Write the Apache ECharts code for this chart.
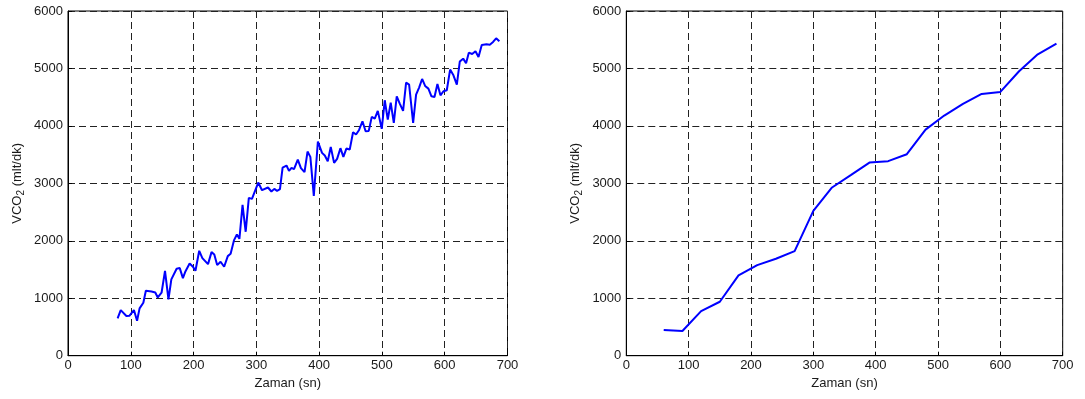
<!DOCTYPE html>
<html>
<head>
<meta charset="utf-8">
<script src="https://cdn.jsdelivr.net/npm/echarts@6/dist/echarts.min.js"></script>
<style>
html,body{margin:0;padding:0;background:#fff;}
#c{width:1085px;height:399px;}
</style>
</head>
<body>
<div id="c"></div>
<script>
// Left panel: raw breath-by-breath VCO2
const leftTimes = [79,84,93,98,105,110,114,120,124,133,139,143,149,154.5,160,164.6,173,178,183,187,193.7,199,203,209,214,223,228.6,233,237.6,243,248.7,254.5,259,264.5,269,273,278,283,288,293,303,309,318.5,324,328.6,333,337.6,341.8,348,352,356,360,366,371,376.7,381.5,386,391.5,398,
  404.6,409,413.7,418.5,423.8,428.6,433.9,438.6,443.4,448.7,454,458.8,463.6,469,474,479,483.8,488.6,493.4,499.7,504.5,509.3,514,518.9,523.6,528.4,533.7,538.5,543.3,549.7,554.4,559.2,564,568.8,574,578.9,583.7,588.4,593.2,598,603.3,608.6,613.9,619.3,624,629.4,634,638.4,643.7,649,653.8,659,666.5,671.8,677,681.9,687];
const leftValues = [649,794,690,696,794,609,823,922,1130,1119,1101,1014,1096,1478,980,1328,1513,1525,1351,1467,1606,1548,1478,1826,1699,1594,1803,1762,1577,1635,1548,1733,1774,2012,2110,2035,2626,2157,2748,2730,3014,2881,2928,2858,2904,2870,2899,3275,3310,3217,3270,3246,3414,3264,3194,3554,3461,2783,3728,
  3530,3484,3386,3635,3357,3426,3612,3461,3606,3588,3890,3849,3930,4081,3907,3913,4157,4128,4261,3948,4446,4110,4406,4052,4516,4388,4261,4754,4719,4052,4545,4667,4817,4696,4649,4516,4504,4730,4533,4603,4620,4980,4881,4719,5119,5171,5090,5275,5252,5299,5200,5409,5420,5414,5461,5525,5472];
// Right panel: 30-s averaged VCO2
const rightTimes = [60,90,120,150,180,210,240,270,300,330,360,390,420,450,480,510,540,570,600,630,660,690];
const rightValues = [446,429,777,939,1397,1577,1687,1820,2522,2928,3142,3362,3386,3507,3936,4180,4383,4557,4591,4951,5246,5432];

const xTicks = {min:0, max:700, interval:100};
const yTicks = {min:0, max:6000, interval:1000};
const xName = 'Zaman (sn)';

const chart = echarts.init(document.getElementById('c'), null, {renderer:'canvas'});
const font = 'Liberation Sans, Arial, sans-serif';
const txt = '#1a1a1a';
const gridLine = {show:true, lineStyle:{color:'#222', width:1, type:[7,4]}};
const plain = v => String(v);

function xAxis(gi){
  return {type:'value', gridIndex:gi, min:xTicks.min, max:xTicks.max, interval:xTicks.interval,
    name:xName, nameLocation:'middle', nameGap:20,
    nameTextStyle:{fontFamily:font, fontSize:13, color:txt},
    axisLine:{show:true, lineStyle:{color:'#000', width:1}},
    axisTick:{show:true, inside:true, length:4, lineStyle:{color:'#000'}},
    axisLabel:{fontFamily:font, fontSize:13, color:txt, margin:3, formatter:plain},
    splitLine:gridLine};
}
function yAxis(gi){
  return {type:'value', gridIndex:gi, min:yTicks.min, max:yTicks.max, interval:yTicks.interval,
    name:'{a|VCO}{b|2}{a| (mlt/dk)}', nameLocation:'middle', nameGap:42, nameRotate:90,
    nameTextStyle:{rich:{
      a:{fontFamily:font, fontSize:13, color:txt},
      b:{fontFamily:font, fontSize:10, color:txt, padding:[7,0,0,0]}
    }},
    axisLine:{show:true, lineStyle:{color:'#000', width:1}},
    axisTick:{show:true, inside:true, length:4, lineStyle:{color:'#000'}},
    axisLabel:{fontFamily:font, fontSize:13, color:txt, margin:5, formatter:plain},
    splitLine:gridLine};
}

chart.setOption({
  animation:false,
  backgroundColor:'#fff',
  grid:[
    {left:68, right:577.5, top:11, bottom:43.3, show:true, borderColor:'#000', borderWidth:1},
    {left:626.3, right:22.3, top:11, bottom:43.3, show:true, borderColor:'#000', borderWidth:1}
  ],
  xAxis:[xAxis(0), xAxis(1)],
  yAxis:[yAxis(0), yAxis(1)],
  series:[
    {type:'line', xAxisIndex:0, yAxisIndex:0, showSymbol:false,
     data:leftTimes.map((t,i)=>[t,leftValues[i]]),
     lineStyle:{color:'#0000ff', width:2}, itemStyle:{color:'#0000ff'}},
    {type:'line', xAxisIndex:1, yAxisIndex:1, showSymbol:false,
     data:rightTimes.map((t,i)=>[t,rightValues[i]]),
     lineStyle:{color:'#0000ff', width:2}, itemStyle:{color:'#0000ff'}}
  ]
});
</script>
</body>
</html>
